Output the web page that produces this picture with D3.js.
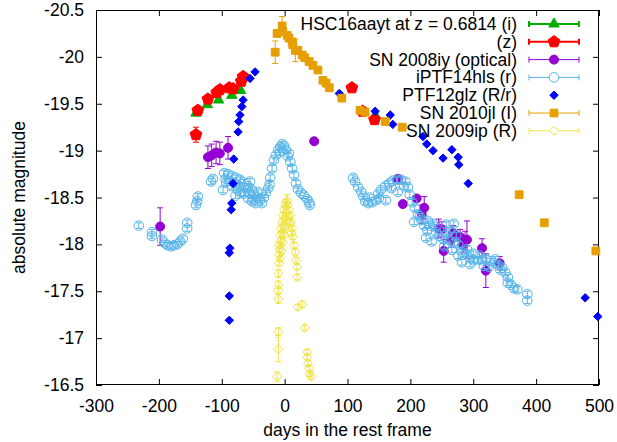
<!DOCTYPE html>
<html>
<head>
<meta charset="utf-8">
<script src="https://cdn.jsdelivr.net/npm/d3@7"></script>
<style>
  body { margin: 0; background: #fff; }
  svg text { font-family: "Liberation Sans", Arial, sans-serif; }
</style>
</head>
<body>
<svg id="chart"></svg>
<script>
// [day, magnitude, error]
const hscI = [[-141,-19.40,0.02],[-123,-19.49,0.02],[-105,-19.54,0.02],[-84,-19.59,0.02],[-70,-19.64,0.02],[144,-19.38,0.03]];
const hscZ = [[-141,-19.17,0.08],[-138,-19.43,0.03],[-122,-19.55,0.03],[-108,-19.62,0.03],[-103,-19.65,0.03],[-88,-19.67,0.03],
  [-82,-19.66,0.03],[-69,-19.74,0.03],[-66,-19.79,0.03],[107,-19.67,0.03],[124,-19.42,0.03],[143,-19.33,0.03]];
const sn2008iy = [[-198,-18.19,0.20],[-122,-18.93,0.12],[-116,-18.95,0.12],[-109,-18.98,0.12],[-103,-18.97,0.12],[-90,-19.03,0.12],
  [47,-19.10,0],[180,-18.70,0.03],[188,-18.43,0.03],[210,-18.49,0.03],[222,-18.39,0.12],[218,-18.32,0.10],[245,-18.17,0.10],
  [250,-18.16,0.08],[253,-17.93,0.12],[268,-18.12,0.08],[265,-18.05,0.08],[279,-18.08,0.08],[287,-18.04,0.10],[290,-18.05,0.20],
  [284,-17.99,0.08],[314,-17.96,0.10],[320,-17.72,0.18],[342,-17.80,0.07]];
const iptf14hls = [[-232,-18.20,0.03],[-211,-18.13,0.03],[-211,-18.09,0.03],[-195,-18.05,0.03],[-190,-18.01,0.03],[-186,-17.99,0.03],
  [-181,-17.98,0.03],[-176,-17.99,0.03],[-171,-18.00,0.03],[-166,-18.03,0.03],[-162,-18.06,0.03],[-155,-18.23,0.03],[-155,-18.17,0.03],
  [-141,-18.42,0.03],[-139,-18.46,0.03],[-138,-18.51,0.03],[-117,-18.67,0.03],[-114,-18.70,0.03],[-98,-18.58,0.03],[-96,-18.76,0.03],
  [-90,-18.75,0.03],[-84,-18.73,0.03],[-77,-18.71,0.03],[-71,-18.69,0.03],[-65,-18.66,0.03],[-58,-18.62,0.03],[-52,-18.58,0.03],
  [-49,-18.53,0.03],[-44,-18.50,0.03],[-39,-18.47,0.03],[-36,-18.44,0.03],[-33,-18.50,0.03],[-30,-18.55,0.03],[-26,-18.60,0.03],
  [-23,-18.71,0.03],[-20,-18.81,0.03],[-17,-18.90,0.03],[-14,-18.95,0.03],[-10,-19.01,0.03],[-7,-19.04,0.03],[-4,-19.07,0.03],
  [-1,-19.05,0.03],[2,-19.01,0.03],[5,-18.94,0.03],[9,-18.88,0.03],[12,-18.81,0.03],[15,-18.74,0.03],[18,-18.65,0.03],[21,-18.59,0.03],
  [26,-18.55,0.03],[31,-18.52,0.03],[36,-18.48,0.03],[39,-18.45,0.03],[40,-18.42,0.03],
  [-93,-18.66,0.03],[-84,-18.62,0.03],[-74,-18.58,0.03],[-65,-18.54,0.03],[-58,-18.49,0.03],[-52,-18.46,0.03],[-46,-18.44,0.03],
  [-55,-18.67,0.03],[-42,-18.56,0.03],[-94,-18.70,0.03],[-88,-18.68,0.03],[-80,-18.66,0.03],[-72,-18.62,0.03],[-62,-18.60,0.03],
  [-56,-18.55,0.03],[-48,-18.48,0.03],[-70,-18.55,0.03],[-78,-18.52,0.03],[-24,-18.64,0.03],[-8,-18.98,0.03],[7,-18.97,0.03],
  [109,-18.71,0.03],[112,-18.67,0.03],[117,-18.61,0.03],[122,-18.56,0.03],[125,-18.51,0.03],[128,-18.46,0.03],[133,-18.44,0.03],
  [139,-18.45,0.03],[145,-18.47,0.03],[149,-18.54,0.03],[153,-18.58,0.03],[160,-18.62,0.03],[166,-18.65,0.03],[172,-18.68,0.03],
  [179,-18.69,0.03],[185,-18.69,0.03],[192,-18.67,0.03],[196,-18.61,0.03],[199,-18.53,0.03],[203,-18.45,0.03],[207,-18.39,0.03],
  [212,-18.32,0.03],[217,-18.26,0.03],[222,-18.20,0.03],[227,-18.15,0.03],[231,-18.20,0.03],[236,-18.22,0.03],[241,-18.13,0.03],
  [246,-18.09,0.03],[250,-18.07,0.03],[257,-18.11,0.03],[263,-18.15,0.03],[269,-18.22,0.03],[273,-18.10,0.03],[276,-18.00,0.03],
  [276,-17.88,0.03],[282,-17.92,0.03],[289,-17.90,0.03],[295,-17.85,0.03],[301,-17.83,0.03],[308,-17.84,0.03],[314,-17.83,0.03],
  [320,-17.85,0.03],[327,-17.82,0.03],[333,-17.80,0.03],[340,-17.78,0.03],[346,-17.75,0.03],[351,-17.70,0.03],[355,-17.65,0.03],
  [355,-17.59,0.03],[360,-17.57,0.03],[365,-17.53,0.03],[370,-17.52,0.03],[386,-17.47,0.03],[386,-17.40,0.03],
  [161,-18.47,0.03],[180,-18.56,0.03],[225,-18.07,0.03],[234,-18.03,0.03],[254,-17.98,0.03],[266,-17.94,0.03],[282,-17.81,0.03],
  [295,-17.79,0.03],[317,-17.77,0.03],[343,-17.73,0.03],[206,-18.24,0.03],[257,-18.21,0.03],
  [135,-18.50,0.03],[150,-18.49,0.03],[170,-18.60,0.03],[190,-18.62,0.03],[215,-18.30,0.03],[228,-18.25,0.03],[240,-18.18,0.03],
  [260,-18.05,0.03],[270,-18.02,0.03],[290,-17.95,0.03],[300,-17.90,0.03],[310,-17.88,0.03],[325,-17.76,0.03],[335,-17.84,0.03]];
const ptf12glz = [[-47,-19.84],[-55,-19.77],[-66,-19.54],[-68,-19.47],[-71,-19.38],[-73,-19.31],[-74,-19.20],[-81,-18.91],
  [-82,-18.65],[-84,-18.44],[-85,-18.37],[-87,-17.96],[-88,-17.91],[-88,-17.45],[-88,-17.19],[87,-19.61],[144,-19.42],
  [168,-19.38],[172,-19.28],[220,-19.15],[226,-19.07],[236,-19.00],[252,-18.92],[266,-19.01],[276,-18.93],[277,-18.85],
  [292,-18.65],[478,-17.43],[498,-17.23]];
const sn2010jl = [[-15,-20.05,0.12],[-12,-20.25,0.03],[-4,-20.33,0.10],[-3,-20.27,0.03],[4,-20.23,0.03],[7,-20.20,0.03],
  [12,-20.16,0.03],[13,-20.13,0.03],[17,-20.07,0.12],[21,-20.07,0.03],[28,-20.02,0.03],[32,-19.99,0.03],[39,-19.95,0.03],
  [45,-19.91,0.03],[53,-19.86,0.03],[61,-19.75,0.03],[66,-19.72,0.03],[71,-19.67,0.03],[91,-19.56,0.03],[120,-19.43,0.03],
  [128,-19.41,0.03],[160,-19.31,0.03],[187,-19.25,0.03],[373,-18.53,0.03],[413,-18.23,0.03],[495,-17.93,0.03]];
const sn2009ip = [[-12,-16.59,0.05],[-10,-16.88,0.13],[-10,-17.07,0.04],[-10,-17.42,0.05],[-10,-17.51,0.04],[-10,-17.57,0.04],
  [-10,-17.69,0.04],[-9,-17.89,0.03],[-9,-17.99,0.03],[-7,-18.10,0.03],[-6,-18.17,0.03],[-4,-18.24,0.03],[-3,-18.31,0.03],
  [-1,-18.37,0.03],[1,-18.42,0.03],[2,-18.45,0.03],[4,-18.47,0.06],[5,-18.42,0.03],[7,-18.37,0.03],[9,-18.31,0.03],
  [10,-18.24,0.03],[12,-18.17,0.03],[13,-18.08,0.03],[15,-17.99,0.03],[17,-17.92,0.03],[18,-17.83,0.03],[20,-17.76,0.03],
  [20,-17.65,0.03],[21,-17.33,0.03],[28,-17.36,0.03],[32,-17.11,0.03],[36,-16.85,0.03],[36,-16.80,0.03],[37,-16.73,0.03],
  [39,-16.68,0.03],[40,-16.62,0.03],[42,-16.59,0.03],
  [-8,-17.95,0.03],[-6,-18.04,0.03],[-4,-18.12,0.03],[-2,-18.20,0.03],[0,-18.28,0.03],[2,-18.34,0.03],[-7,-17.85,0.03],
  [-5,-17.93,0.03],[-3,-18.02,0.03],[-1,-18.10,0.03],[1,-18.18,0.03],[3,-18.25,0.03],[6,-18.30,0.03],[8,-18.22,0.03],
  [-9,-17.80,0.03],[11,-18.12,0.03]];

const xTicks = [-300, -200, -100, 0, 100, 200, 300, 400, 500];
const yTicks = [-20.5, -20, -19.5, -19, -18.5, -18, -17.5, -17, -16.5];
const legendLabels = ["HSC16aayt at z = 0.6814 (i)", "(z)", "SN 2008iy (optical)", "iPTF14hls (r)",
  "PTF12glz (R/r)", "SN 2010jl (I)", "SN 2009ip (R)"];

const width = 617, height = 442;
const margin = {top: 10, right: 18, bottom: 57, left: 96};
const fontSize = 17.5;

const svg = d3.select('#chart')
    .attr('width', width)
    .attr('height', height)
    .style('font-size', fontSize + 'px');

const x = d3.scaleLinear().domain([-300, 500]).range([margin.left, width - margin.right]);
const y = d3.scaleLinear().domain([-20.5, -16.5]).range([margin.top, height - margin.bottom]);

// custom symbol shapes, size = radius in px
const polygon = (n, rot) => ({
    draw(ctx, r) {
        for (let i = 0; i < n; i++) {
            const a = rot + i * 2 * Math.PI / n;
            const px = r * Math.cos(a), py = r * Math.sin(a);
            if (i === 0) ctx.moveTo(px, py); else ctx.lineTo(px, py);
        }
        ctx.closePath();
    }
});
const triangle = polygon(3, -Math.PI / 2);
const pentagon = polygon(5, -Math.PI / 2);
const diamond = polygon(4, -Math.PI / 2);
const square = polygon(4, -Math.PI / 4);
const circle = { draw(ctx, r) { ctx.moveTo(r, 0); ctx.arc(0, 0, r, 0, 2 * Math.PI); } };

const series = [
    {data: hscI, color: '#00b000', shape: triangle, r: 6, fill: true, lw: 2},
    {data: hscZ, color: '#ff0000', shape: pentagon, r: 6.2, fill: true, lw: 2},
    {data: sn2008iy, color: '#9400d3', shape: circle, r: 4.5, fill: true, lw: 1},
    {data: iptf14hls, color: '#56b4e9', shape: circle, r: 4.8, fill: false, lw: 1},
    {data: ptf12glz, color: '#0000ff', shape: diamond, r: 4.2, fill: true, lw: 1, noBars: true},
    {data: sn2010jl, color: '#e69f00', shape: square, r: 5.5, fill: true, lw: 1},
    {data: sn2009ip, color: '#f0e442', shape: diamond, r: 4.5, fill: false, lw: 1}
];

// axes with inward ticks on all sides
const fmt = d => String(d);
svg.append('g')
    .attr('transform', 'translate(0,' + (height - margin.bottom) + ')')
    .call(d3.axisBottom(x).tickValues(xTicks).tickFormat(fmt).tickSizeInner(-6).tickSizeOuter(0).tickPadding(15));
svg.append('g')
    .attr('transform', 'translate(0,' + margin.top + ')')
    .call(d3.axisTop(x).tickValues(xTicks).tickFormat('').tickSizeInner(-6).tickSizeOuter(0));
svg.append('g')
    .attr('transform', 'translate(' + margin.left + ',0)')
    .call(d3.axisLeft(y).tickValues(yTicks).tickFormat(fmt).tickSizeInner(-6).tickSizeOuter(0).tickPadding(12));
svg.append('g')
    .attr('transform', 'translate(' + (width - margin.right) + ',0)')
    .call(d3.axisRight(y).tickValues(yTicks).tickFormat('').tickSizeInner(-6).tickSizeOuter(0));
svg.selectAll('.domain').remove();
svg.selectAll('.tick text').attr('fill', '#000').style('font-size', fontSize + 'px')
    .style('font-family', '"Liberation Sans", Arial, sans-serif');
svg.selectAll('.tick line').attr('stroke', '#000');

svg.append('rect')
    .attr('x', margin.left + 0.5)
    .attr('y', margin.top + 0.5)
    .attr('width', width - margin.left - margin.right - 1)
    .attr('height', height - margin.top - margin.bottom - 1)
    .attr('fill', 'none')
    .attr('stroke', '#000');

svg.append('text')
    .attr('x', (margin.left + width - margin.right) / 2)
    .attr('y', 436)
    .attr('text-anchor', 'middle')
    .text('days in the rest frame');
svg.append('text')
    .attr('transform', 'rotate(-90)')
    .attr('x', -(margin.top + height - margin.bottom) / 2)
    .attr('y', 25)
    .attr('text-anchor', 'middle')
    .text('absolute magnitude');

const plot = svg.append('g');

series.forEach(s => {
    const g = plot.append('g');
    if (!s.noBars) {
        const bars = g.selectAll('g.bar')
            .data(s.data.filter(d => d[2] > 0))
            .enter()
            .append('g')
            .attr('stroke', s.color)
            .attr('stroke-width', 1);
        bars.append('line')
            .attr('x1', d => x(d[0])).attr('x2', d => x(d[0]))
            .attr('y1', d => y(d[1] - d[2])).attr('y2', d => y(d[1] + d[2]));
        bars.append('line')
            .attr('x1', d => x(d[0]) - 3).attr('x2', d => x(d[0]) + 3)
            .attr('y1', d => y(d[1] - d[2])).attr('y2', d => y(d[1] - d[2]));
        bars.append('line')
            .attr('x1', d => x(d[0]) - 3).attr('x2', d => x(d[0]) + 3)
            .attr('y1', d => y(d[1] + d[2])).attr('y2', d => y(d[1] + d[2]));
    }
    g.selectAll('path.pt')
        .data(s.data)
        .enter()
        .append('path')
        .attr('d', d3.symbol().type(s.shape).size(s.r))
        .attr('transform', d => 'translate(' + x(d[0]) + ',' + y(d[1]) + ')')
        .attr('fill', s.fill ? s.color : 'none')
        .attr('stroke', s.color)
        .attr('stroke-width', 1);
});

// legend
const legend = svg.append('g');
const rowY = i => 24 + i * 17.8;
series.forEach((s, i) => {
    const cy = rowY(i);
    legend.append('text')
        .attr('x', 517)
        .attr('y', cy + 6)
        .attr('text-anchor', 'end')
        .text(legendLabels[i]);
    if (!s.noBars) {
        const g = legend.append('g').attr('stroke', s.color).attr('stroke-width', s.lw);
        g.append('line').attr('x1', 529).attr('x2', 579).attr('y1', cy).attr('y2', cy);
        g.append('line').attr('x1', 529).attr('x2', 529).attr('y1', cy - 3).attr('y2', cy + 3);
        g.append('line').attr('x1', 579).attr('x2', 579).attr('y1', cy - 3).attr('y2', cy + 3);
    }
    legend.append('path')
        .attr('d', d3.symbol().type(s.shape).size(s.r))
        .attr('transform', 'translate(554,' + cy + ')')
        .attr('fill', s.fill ? s.color : (s.shape === circle || s.shape === diamond ? '#fff' : 'none'))
        .attr('stroke', s.color);
});
</script>
</body>
</html>
